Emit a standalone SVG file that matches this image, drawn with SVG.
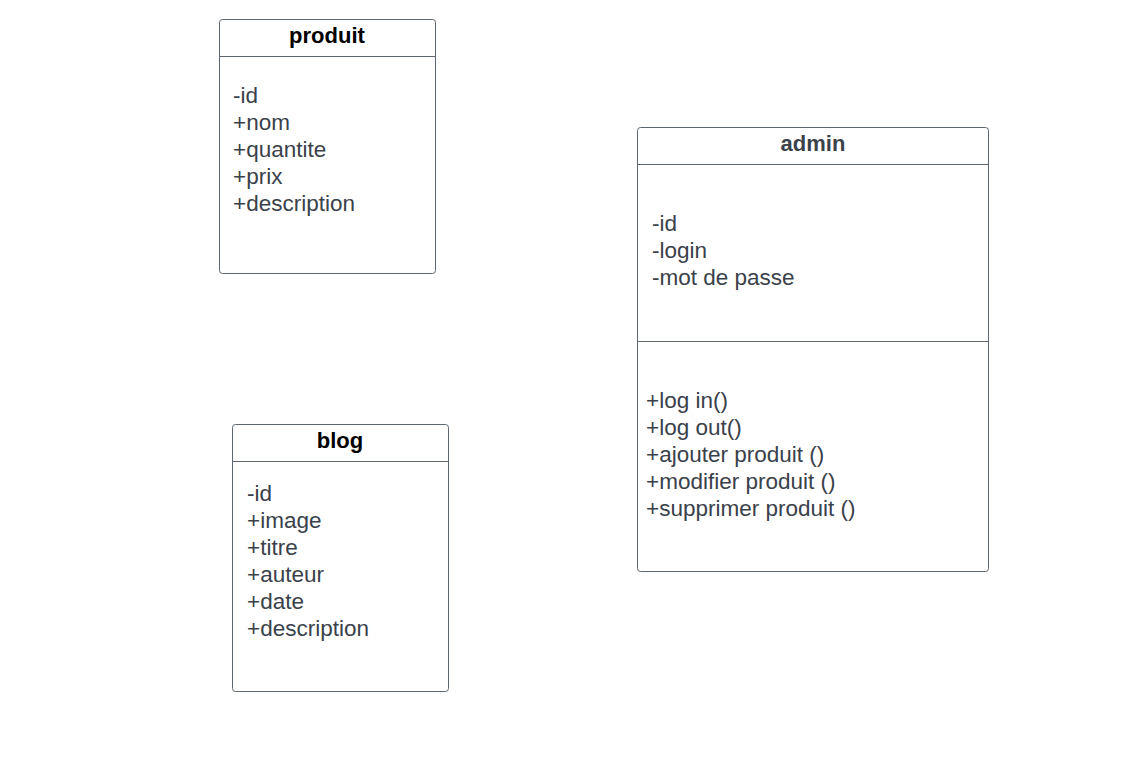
<svg xmlns="http://www.w3.org/2000/svg" width="1135" height="757" viewBox="0 0 1135 757">
<style>
.box{fill:#fff;stroke:#5e6670;stroke-width:1}
.ln{stroke:#5e6670;stroke-width:1}
.t{font-family:"Liberation Sans",Arial,sans-serif;font-size:22.5px;fill:#3a414a}
.h{font-family:"Liberation Sans",Arial,sans-serif;font-size:22px;font-weight:bold;text-anchor:middle}
</style>
<rect width="1135" height="757" fill="#fff"/>
<g id="produit">
<rect class="box" x="219.5" y="19.5" width="216" height="254" rx="3"/>
<line class="ln" x1="219.5" y1="56.5" x2="435.5" y2="56.5"/>
<text class="h" x="327" y="43" fill="#000">produit</text>
<text class="t" x="233" y="102.5">-id</text>
<text class="t" x="233" y="129.5">+nom</text>
<text class="t" x="233" y="156.5">+quantite</text>
<text class="t" x="233" y="183.5">+prix</text>
<text class="t" x="233" y="210.5">+description</text>
</g>
<g id="blog">
<rect class="box" x="232.5" y="424.5" width="216" height="267" rx="3"/>
<line class="ln" x1="232.5" y1="461.5" x2="448.5" y2="461.5"/>
<text class="h" x="340" y="448" fill="#000">blog</text>
<text class="t" x="247" y="500.5">-id</text>
<text class="t" x="247" y="527.5">+image</text>
<text class="t" x="247" y="554.5">+titre</text>
<text class="t" x="247" y="581.5">+auteur</text>
<text class="t" x="247" y="608.5">+date</text>
<text class="t" x="247" y="635.5">+description</text>
</g>
<g id="admin">
<rect class="box" x="637.5" y="127.5" width="351" height="444" rx="3"/>
<line class="ln" x1="637.5" y1="164.5" x2="988.5" y2="164.5"/>
<line class="ln" x1="637.5" y1="341.5" x2="988.5" y2="341.5"/>
<text class="h" x="813" y="151" fill="#3a414a">admin</text>
<text class="t" x="652" y="230.5">-id</text>
<text class="t" x="652" y="257.5">-login</text>
<text class="t" x="652" y="284.5">-mot de passe</text>
<text class="t" x="646" y="407.5">+log in()</text>
<text class="t" x="646" y="434.5">+log out()</text>
<text class="t" x="646" y="461.5">+ajouter produit ()</text>
<text class="t" x="646" y="488.5">+modifier produit ()</text>
<text class="t" x="646" y="515.5">+supprimer produit ()</text>
</g>
<g id="connectors"></g>
</svg>
